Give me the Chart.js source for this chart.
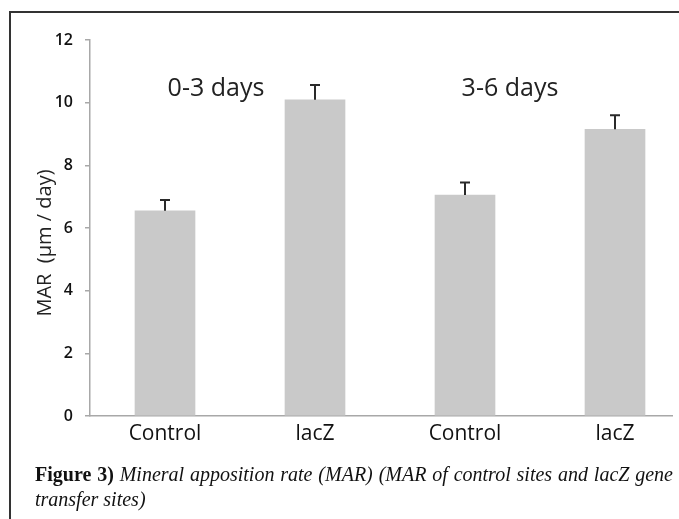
<!DOCTYPE html>
<html>
<head>
<meta charset="utf-8">
<script src="https://cdn.jsdelivr.net/npm/chart.js@4"></script>
<style>
    html, body { margin: 0; padding: 0; width: 679px; height: 519px; overflow: hidden; background: #fff; }
    #frame { position: absolute; left: 9px; top: 11px; width: 1000px; height: 1000px; border: 2px solid #333; }
    #wrap { position: absolute; left: 0; top: 0; width: 679px; height: 519px; }
    #caption { position: absolute; left: 35px; top: 462px; width: 638px; font-family: "Liberation Serif", serif; font-size: 20px; line-height: 25px; color: #111; }
    #caption .l1 { text-align: justify; text-align-last: justify; }
    #caption b { font-weight: bold; font-style: normal; }
    #caption i { font-style: italic; }
</style>
</head>
<body>
<div id="frame"></div>
<div id="wrap"><canvas id="myChart" width="679" height="519"></canvas></div>
<div id="caption">
    <div class="l1"><b>Figure 3)</b> <i>Mineral apposition rate (MAR) (MAR of control sites and lacZ gene</i></div>
    <div><i>transfer sites)</i></div>
</div>
<script>
// Datos del gráfico
const labels = ["Control", "lacZ", "Control", "lacZ"];
const positions = [1, 2, 3, 4];
const marValues = [6.55, 10.09, 7.05, 9.15];
const errValues = [0.34, 0.47, 0.40, 0.45];
const periodLabels = ["0-3 days", "3-6 days"];
const periodX = [1.34, 3.30]; // posición en unidades del eje x
const periodY = 10.45;

// Plugin para las barras de error (solo hacia arriba, en forma de T)
const errorBars = {
    id: 'errorBars',
    afterDatasetsDraw(chart) {
        const ctx = chart.ctx;
        const yScale = chart.scales.y;
        const meta = chart.getDatasetMeta(0);
        ctx.save();
        ctx.strokeStyle = '#2a2a2a';
        ctx.lineWidth = 2;
        meta.data.forEach((bar, i) => {
            const top = yScale.getPixelForValue(marValues[i] + errValues[i]);
            ctx.beginPath();
            ctx.moveTo(bar.x, bar.y);
            ctx.lineTo(bar.x, top);
            ctx.moveTo(bar.x - 5, top);
            ctx.lineTo(bar.x + 5, top);
            ctx.stroke();
        });
        ctx.restore();
    }
};

// Plugin para los textos "0-3 days" / "3-6 days" y el título del eje y
const extraText = {
    id: 'extraText',
    afterDraw(chart) {
        const ctx = chart.ctx;
        const {x, y} = chart.scales;
        ctx.save();
        ctx.fillStyle = '#222';
        ctx.font = '25px "Open Sans"';
        ctx.textAlign = 'center';
        ctx.textBaseline = 'middle';
        periodLabels.forEach((t, i) => {
            ctx.fillText(t, x.getPixelForValue(periodX[i]), y.getPixelForValue(periodY));
        });
        // Título del eje y, girado
        ctx.translate(45, 243);
        ctx.rotate(-Math.PI / 2);
        ctx.font = '20px "Open Sans"';
        ctx.fillText("MAR  (\u00b5m / day)", 0, 0);
        ctx.restore();
    }
};

const ctx = document.getElementById('myChart').getContext('2d');
const myChart = new Chart(ctx, {
    type: 'bar',
    data: {
        datasets: [{
            data: positions.map((p, i) => ({x: p, y: marValues[i]})),
            backgroundColor: '#c9c9c9',
            barThickness: 60
        }]
    },
    options: {
        responsive: false,
        animation: false,
        layout: {padding: {left: 0, top: 40, right: 7, bottom: 63}},
        plugins: {legend: {display: false}, tooltip: {enabled: false}},
        scales: {
            x: {
                type: 'linear',
                offset: false,
                min: 0.5,
                max: 4.38,
                afterBuildTicks: scale => { scale.ticks = positions.map(v => ({value: v})); },
                afterFit: scale => { scale.height = 40; },
                grid: {display: false},
                border: {color: '#a8a8a8', width: 1.5},
                ticks: {
                    padding: -3,
                    color: '#111',
                    font: {family: 'Open Sans', size: 21},
                    maxRotation: 0,
                    callback: v => labels[positions.indexOf(v)]
                }
            },
            y: {
                min: 0,
                max: 12,
                afterFit: scale => { scale.width = 90; },
                grid: {drawOnChartArea: false, tickLength: 5, color: '#a8a8a8', lineWidth: 1.5},
                border: {color: '#a8a8a8', width: 1.5},
                ticks: {
                    stepSize: 2,
                    padding: 12,
                    color: '#111',
                    font: {family: 'Open Sans', size: 16, weight: '600'}
                }
            }
        }
    },
    plugins: [errorBars, extraText]
});
</script>
</body>
</html>
